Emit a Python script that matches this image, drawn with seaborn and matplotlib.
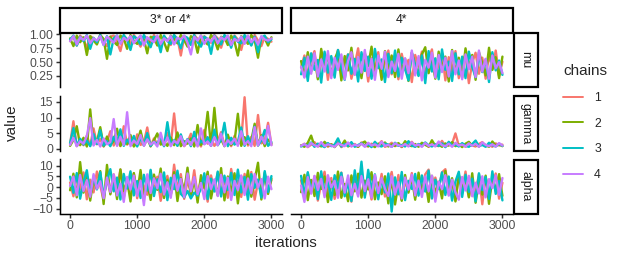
import numpy as np
import pandas as pd
import matplotlib
matplotlib.use("Agg")
import matplotlib.pyplot as plt
import seaborn as sns
from matplotlib.patches import Rectangle

# ---------------- data ----------------
groups = ["3* or 4*", "4*"]
params = ["mu", "gamma", "alpha"]
chains = ["1", "2", "3", "4"]
chain_colors = ["#F8766D", "#7CAE00", "#00BFC4", "#C77CFF"]
x_ticks = [0, 1000, 2000, 3000]
x_ticklabels = ["0", "1000", "2000", "3000"]
mu_ticks = [0.25, 0.50, 0.75, 1.00]
mu_ticklabels = ["0.25", "0.50", "0.75", "1.00"]
gamma_ticks = [0, 5, 10, 15]
gamma_ticklabels = ["0", "5", "10", "15"]
alpha_ticks = [-10, -5, 0, 5, 10]
alpha_ticklabels = ["\u221210", "\u22125", "0", "5", "10"]

# mu, group "3* or 4*" (chains 1-4), sampled every 50 iterations
mu_a = [
    [0.88,0.97,0.80,0.98,0.91,0.76,0.97,0.93,0.84,0.99,0.89,0.79,0.96,0.98,0.86,0.70,0.97,0.92,0.82,0.99,0.90,0.78,0.97,0.94,0.85,0.99,0.88,0.77,0.96,0.91,0.81,0.98,0.93,0.62,0.96,0.89,0.83,0.99,0.92,0.80,0.97,0.90,0.85,0.99,0.93,0.76,0.96,0.88,0.84,0.98,0.91,0.72,0.97,0.94,0.81,0.99,0.89,0.79,0.96,0.92,0.87],
    [0.93,0.79,0.98,0.86,0.95,0.63,0.97,0.89,0.82,0.99,0.92,0.56,0.96,0.87,0.81,0.98,0.93,0.74,0.99,0.88,0.83,0.97,0.91,0.66,0.96,0.94,0.80,0.99,0.86,0.70,0.98,0.92,0.84,0.99,0.90,0.78,0.97,0.93,0.67,0.98,0.88,0.82,0.99,0.91,0.73,0.96,0.94,0.81,0.98,0.87,0.62,0.97,0.92,0.83,0.99,0.90,0.58,0.96,0.93,0.80,0.95],
    [0.91,0.98,0.80,0.96,0.88,0.99,0.74,0.94,0.86,0.99,0.81,0.97,0.64,0.93,0.98,0.84,0.99,0.90,0.72,0.97,0.92,0.82,0.99,0.87,0.77,0.96,0.93,0.68,0.98,0.88,0.83,0.99,0.91,0.75,0.97,0.94,0.81,0.99,0.86,0.78,0.96,0.92,0.65,0.98,0.90,0.82,0.99,0.93,0.76,0.97,0.87,0.84,0.99,0.91,0.80,0.96,0.68,0.94,0.98,0.86,0.91],
    [0.88,0.97,0.82,0.95,0.90,0.98,0.84,0.93,0.89,0.97,0.81,0.96,0.91,0.85,0.98,0.83,0.94,0.89,0.97,0.84,0.92,0.98,0.80,0.95,0.90,0.86,0.98,0.83,0.93,0.88,0.97,0.82,0.94,0.91,0.98,0.85,0.64,0.96,0.89,0.98,0.83,0.93,0.87,0.97,0.84,0.95,0.90,0.98,0.81,0.92,0.88,0.96,0.83,0.98,0.86,0.94,0.82,0.97,0.91,0.89,0.93],
]
# mu, group "4*"
mu_b = [
    [0.40,0.62,0.25,0.55,0.70,0.22,0.48,0.66,0.18,0.58,0.35,0.72,0.27,0.52,0.64,0.20,0.45,0.75,0.30,0.60,0.15,0.57,0.38,0.68,0.24,0.50,0.71,0.28,0.61,0.19,0.65,0.36,0.54,0.14,0.63,0.42,0.69,0.26,0.56,0.73,0.23,0.47,0.66,0.17,0.59,0.33,0.70,0.21,0.53,0.62,0.12,0.49,0.67,0.29,0.58,0.20,0.64,0.37,0.71,0.25,0.51],
    [0.52,0.24,0.68,0.33,0.60,0.19,0.74,0.40,0.63,0.26,0.55,0.70,0.17,0.61,0.35,0.76,0.28,0.57,0.21,0.66,0.43,0.78,0.31,0.59,0.18,0.70,0.38,0.62,0.23,0.73,0.34,0.56,0.16,0.67,0.45,0.27,0.64,0.77,0.30,0.54,0.20,0.69,0.39,0.60,0.15,0.72,0.32,0.58,0.22,0.75,0.41,0.63,0.18,0.68,0.48,0.26,0.76,0.36,0.59,0.21,0.60],
    [0.28,0.58,0.16,0.66,0.36,0.54,0.13,0.69,0.31,0.61,0.22,0.72,0.42,0.18,0.64,0.29,0.56,0.15,0.68,0.34,0.60,0.20,0.74,0.39,0.55,0.14,0.65,0.30,0.71,0.24,0.58,0.37,0.17,0.67,0.44,0.25,0.62,0.12,0.70,0.33,0.57,0.19,0.73,0.36,0.51,0.16,0.66,0.28,0.60,0.21,0.69,0.41,0.23,0.63,0.32,0.55,0.14,0.68,0.35,0.53,0.27],
    [0.42,0.22,0.60,0.29,0.66,0.24,0.55,0.33,0.70,0.21,0.58,0.36,0.64,0.19,0.52,0.68,0.27,0.59,0.31,0.72,0.25,0.56,0.18,0.62,0.38,0.69,0.23,0.51,0.34,0.65,0.20,0.57,0.30,0.71,0.26,0.61,0.17,0.54,0.40,0.67,0.22,0.63,0.32,0.58,0.24,0.70,0.28,0.53,0.19,0.64,0.37,0.60,0.23,0.71,0.33,0.56,0.20,0.62,0.39,0.50,0.30],
]
# gamma, group "3* or 4*"
gamma_a = [
    [1.5,8.8,0.8,2.6,1.1,4.2,0.9,6.5,1.4,3.1,0.7,2.2,5.6,1.0,3.4,0.8,7.2,1.3,2.7,0.9,4.6,1.2,2.0,6.8,0.7,3.3,1.5,2.4,0.9,5.1,1.3,11.3,1.0,3.0,0.8,2.1,4.8,1.1,2.9,0.7,6.0,1.6,3.6,0.9,2.3,5.3,1.2,2.8,0.8,4.1,1.4,2.5,16.5,1.0,3.8,0.9,10.8,1.7,2.6,8.3,1.2],
    [0.9,2.8,7.2,1.1,3.5,0.7,12.6,1.4,2.2,6.9,0.8,3.9,1.2,2.5,6.4,0.9,3.1,1.5,4.4,0.7,2.0,5.8,1.0,3.2,0.8,2.7,4.9,1.3,2.1,0.9,3.6,1.1,5.2,0.8,2.4,1.6,3.3,0.7,7.6,1.2,2.9,11.8,0.9,13.1,1.4,3.0,0.8,4.5,1.2,2.3,11.2,0.9,3.7,1.5,2.6,8.0,1.1,4.3,0.8,2.9,1.6],
    [1.8,6.6,0.9,3.2,1.3,2.6,0.8,4.7,1.5,5.9,1.0,2.4,0.8,3.8,1.2,6.2,0.9,2.9,1.4,4.1,0.7,3.4,1.1,5.0,0.9,2.2,1.6,3.9,0.8,8.5,1.3,2.7,0.9,4.6,1.2,3.1,0.8,5.4,1.0,2.5,1.5,3.7,0.9,6.1,1.1,2.8,8.3,0.8,3.5,1.3,2.2,6.8,0.9,4.0,1.4,7.1,1.0,2.6,6.0,0.9,2.1],
    [1.2,3.5,0.8,2.4,1.6,4.1,9.8,1.0,2.8,0.7,3.3,1.4,2.1,9.5,0.9,3.8,1.2,11.7,0.8,2.6,1.5,4.4,0.9,3.0,1.3,2.2,0.7,5.1,1.1,3.6,0.8,2.5,1.7,4.0,0.9,2.9,1.2,3.4,0.7,6.5,1.4,2.3,0.9,3.7,1.1,4.8,0.8,2.7,1.5,3.2,0.9,5.6,1.3,2.4,0.8,6.9,1.0,3.9,1.6,7.3,1.1],
]
# gamma, group "4*"
gamma_b = [
    [0.8,1.6,0.5,1.3,2.1,0.7,1.1,1.8,0.6,1.4,0.9,2.3,0.5,1.2,1.7,0.8,1.5,0.6,2.0,1.0,0.7,1.6,0.9,1.3,2.4,0.6,1.1,1.9,0.8,1.4,0.5,1.7,1.0,2.2,0.7,1.3,0.9,1.8,0.6,1.5,1.1,0.8,2.5,0.7,1.2,1.6,4.9,0.9,1.4,0.6,1.9,1.0,0.7,1.5,2.1,0.8,1.2,0.6,1.7,1.0,1.3],
    [1.1,0.6,1.9,4.2,0.8,1.5,0.7,2.2,1.0,1.4,0.5,1.8,0.9,2.6,0.7,1.3,1.1,0.6,1.7,2.3,0.8,1.2,0.5,1.6,1.0,2.0,0.7,1.4,0.9,1.8,0.6,2.4,1.1,0.8,1.5,0.6,1.9,1.2,0.7,2.7,0.9,1.3,0.6,1.7,1.0,2.1,0.8,1.4,0.5,1.6,2.2,0.9,1.3,0.7,1.8,1.1,0.6,2.3,1.0,1.4,0.8],
    [0.7,1.4,0.9,2.0,0.6,1.6,1.1,0.5,1.8,0.8,1.3,3.3,0.7,1.5,0.9,2.1,0.6,1.2,1.7,0.8,1.4,0.5,2.2,1.0,0.7,1.6,1.3,0.6,1.9,0.9,1.2,0.7,2.4,1.0,0.6,1.5,0.8,2.0,1.1,0.7,1.4,0.9,1.7,0.5,2.2,1.0,1.3,0.7,1.8,0.9,0.6,1.5,2.6,0.8,1.2,0.6,1.9,1.1,0.7,1.6,0.9],
    [0.9,1.5,0.6,1.8,1.1,0.7,2.1,0.8,1.4,1.0,0.6,1.7,1.2,0.8,2.0,0.7,1.3,0.9,1.6,0.6,1.9,1.0,1.4,0.7,2.2,0.9,1.2,0.6,1.7,1.1,0.8,1.5,0.7,2.0,1.0,1.3,0.6,1.8,0.9,1.4,0.7,2.3,1.1,0.8,1.6,0.6,1.9,1.0,1.3,0.7,1.7,0.9,1.5,0.6,2.0,1.2,0.8,1.4,0.7,1.8,1.0],
]
# alpha, group "3* or 4*"
alpha_a = [
    [2.1,-4.3,5.6,-1.2,6.8,-5.7,3.4,-2.5,7.2,0.6,-6.1,4.5,-3.0,5.9,-0.8,8.1,-4.9,2.7,-1.6,6.3,-5.2,3.9,0.4,-3.6,7.5,-2.0,4.8,-6.4,1.3,5.2,-3.8,10.4,-1.1,6.0,-5.5,2.9,-2.4,7.8,-4.1,3.6,0.9,-6.8,5.4,-1.7,6.7,-3.3,4.1,-5.0,8.4,-0.5,3.0,-4.6,6.1,-2.2,7.0,-5.9,2.4,-3.1,5.7,-1.4,3.2],
    [-1.5,6.2,-4.8,11.6,-2.6,5.1,-6.3,3.7,-0.9,7.4,-7.9,10.3,-3.4,4.6,-5.6,8.2,-1.8,3.1,-6.7,6.5,-2.9,7.9,-4.4,2.0,-6.0,5.8,-1.3,8.6,-5.1,3.4,-3.7,6.9,-6.5,4.2,-2.1,9.0,-4.7,3.8,-7.2,5.5,-0.6,7.1,-5.3,2.6,-3.9,8.8,-6.2,4.9,-2.7,6.4,-7.6,5.0,-1.9,7.7,-4.5,3.3,11.3,-5.8,6.6,-3.2,4.0],
    [4.8,-2.7,6.5,-5.4,2.3,7.8,-3.5,5.0,-1.1,6.9,-4.6,3.1,8.3,-2.0,4.4,-5.8,6.1,-0.7,7.3,-3.9,2.8,-5.1,5.7,-1.6,8.0,-4.2,3.6,-2.4,6.8,-6.1,4.3,-1.0,7.6,-3.2,-4.8,-1.8,-5.3,-2.6,-4.0,-0.9,6.4,-5.6,3.9,-2.1,7.2,-4.4,5.3,-1.4,6.6,-3.7,8.1,-2.5,4.7,-5.9,6.0,-0.4,3.5,-4.9,7.4,-2.3,5.1],
    [0.5,4.9,-3.8,5.6,-1.9,3.2,-4.5,6.0,-0.8,2.7,-5.2,4.4,-2.3,5.8,-3.9,1.6,-6.9,4.7,-1.2,5.3,-4.1,3.0,-8.4,5.9,-2.8,4.1,-0.6,6.2,-3.5,2.2,-5.0,5.5,-1.7,3.8,-4.6,6.3,-2.0,4.6,-3.3,1.9,-5.6,5.1,-0.9,3.6,-4.2,5.7,-2.5,4.3,-6.0,2.9,-1.4,5.4,-3.7,4.0,-2.9,6.1,-0.3,3.7,-5.3,4.8,-1.0],
]
# alpha, group "4*"
alpha_b = [
    [3.1,-4.8,6.4,-2.2,5.0,-6.3,1.8,7.1,-3.6,4.2,-5.5,0.9,6.7,-1.9,3.5,-6.8,5.3,-0.7,7.4,-4.0,2.6,-5.8,4.7,-2.9,6.1,-4.4,1.5,7.0,-3.1,5.6,-6.0,2.3,-1.3,6.5,-4.7,3.8,-2.4,5.9,8.1,-5.2,4.4,-0.8,6.8,8.3,-3.4,2.7,-6.2,5.1,-1.6,7.2,-4.5,3.3,-2.7,6.0,-8.0,4.6,-3.8,1.2,6.3,-5.4,2.0],
    [-2.4,5.7,-6.1,3.3,-4.2,6.6,-0.9,4.9,-7.0,2.5,-3.7,7.2,-5.0,1.4,-6.6,5.4,-2.0,6.2,-4.9,3.0,-1.1,6.9,-5.7,2.1,-3.3,5.0,-7.6,3.9,-8.1,1.7,-6.4,5.6,-2.6,4.3,-5.9,6.7,-1.5,3.6,-6.9,5.2,-3.0,2.4,-5.3,7.5,-2.2,4.1,-6.7,5.8,-0.6,3.2,-4.8,6.4,-7.3,2.8,-3.5,5.3,-7.8,4.5,-1.8,6.0,-4.1],
    [5.2,-3.9,6.9,-1.7,4.0,-5.6,7.3,-2.8,3.1,-6.0,5.5,-0.5,6.6,-4.3,2.2,-6.5,7.8,-3.0,11.8,-4.9,8.0,-1.2,5.9,-5.7,3.7,-2.5,6.3,-11.4,4.5,-3.4,7.0,-6.1,2.9,-0.9,6.1,-4.0,5.4,-2.1,7.6,-5.3,3.4,-1.0,6.8,-3.7,4.9,-6.3,2.6,7.1,-4.6,5.7,-2.3,3.9,-6.7,6.4,-1.4,4.7,-5.5,7.3,-3.2,2.8,-6.2],
    [0.7,-6.9,4.6,-3.1,5.2,-1.4,3.8,-4.7,5.5,-0.2,2.9,-5.0,4.8,-2.6,5.4,-3.8,1.5,-4.4,5.1,-1.9,3.6,-4.9,5.6,-2.8,4.1,-0.8,-4.2,5.0,-3.5,2.3,-5.3,4.4,-1.2,5.7,-3.9,3.0,-4.6,4.9,-2.0,5.3,-6.8,2.5,-1.0,5.5,-4.0,3.4,-2.4,-5.9,4.7,-1.6,5.2,-4.3,2.0,-3.0,5.0,-4.8,3.7,-0.5,5.4,-3.6,4.2],
]

series = {
    ("3* or 4*", "mu"): mu_a, ("4*", "mu"): mu_b,
    ("3* or 4*", "gamma"): gamma_a, ("4*", "gamma"): gamma_b,
    ("3* or 4*", "alpha"): alpha_a, ("4*", "alpha"): alpha_b,
}

records = []
for (g, p), chain_lists in series.items():
    for c, vals in zip(chains, chain_lists):
        its = np.linspace(0, 3000, len(vals))
        for it, v in zip(its, vals):
            records.append((g, p, c, it, v))
df = pd.DataFrame(records, columns=["group", "param", "chain", "iteration", "value"])

# ---------------- styling ----------------
sns.set_theme(style="white")
plt.rcParams["font.family"] = ["Liberation Sans", "DejaVu Sans"]

W, H = 623, 260
fig = plt.figure(figsize=(W / 100, H / 100), dpi=100)
fig.patch.set_facecolor("white")


def rect(x0, y0, x1, y1):
    return [x0 / W, 1 - y1 / H, (x1 - x0) / W, (y1 - y0) / H]


col_px = [(60, 281.5), (291, 512.5)]
row_px = [(32.5, 87.3), (96.3, 150.8), (159.5, 213.5)]
strip_top = 8.0
strip_right = (513.5, 537.5)

ylims = {"mu": (0.045, 1.036), "gamma": (-0.68, 16.8), "alpha": (-12.3, 12.8)}
yticks = {"mu": (mu_ticks, mu_ticklabels), "gamma": (gamma_ticks, gamma_ticklabels),
          "alpha": (alpha_ticks, alpha_ticklabels)}

TICK_COL = "#4D4D4D"
handles, labels = None, None
for i, p in enumerate(params):
    for j, g in enumerate(groups):
        x0, x1 = col_px[j]
        y0, y1 = row_px[i]
        ax = fig.add_axes(rect(x0, y0, x1, y1))
        sub = df[(df.group == g) & (df.param == p)]
        first = (i == 0 and j == 0)
        sns.lineplot(data=sub, x="iteration", y="value", hue="chain", hue_order=chains,
                     palette=chain_colors, estimator=None, sort=False, linewidth=1.7,
                     legend=first, ax=ax)
        if first:
            handles, labels = ax.get_legend_handles_labels()
            ax.get_legend().remove()
        ax.set_xlim(-150, 3150)
        ax.set_ylim(*ylims[p])
        ax.set_xlabel("")
        ax.set_ylabel("")
        ax.set_facecolor("white")
        for s in ax.spines.values():
            s.set_visible(False)
        ax.tick_params(axis="both", length=2.75, width=1.07, color="#333333",
                       labelcolor=TICK_COL, labelsize=8.8, pad=2.2)
        if j == 0:
            ax.spines["left"].set_visible(True)
            ax.spines["left"].set_color("black")
            ax.spines["left"].set_linewidth(1.07)
            tk, tl = yticks[p]
            ax.set_yticks(tk)
            ax.set_yticklabels(tl)
            ax.tick_params(axis="y", left=True)
        else:
            ax.set_yticks([])
        if i == 2:
            ax.spines["bottom"].set_visible(True)
            ax.spines["bottom"].set_color("black")
            ax.spines["bottom"].set_linewidth(1.07)
            ax.set_xticks(x_ticks)
            ax.set_xticklabels(x_ticklabels)
            ax.tick_params(axis="x", bottom=True)
        else:
            ax.set_xticks([])
        ax.grid(False)

# top strips
for j, g in enumerate(groups):
    x0, x1 = col_px[j]
    sax = fig.add_axes(rect(x0, strip_top, x1, row_px[0][0]))
    sax.set_axis_off()
    sax.add_patch(Rectangle((0, 0), 1, 1, transform=sax.transAxes, facecolor="white",
                            edgecolor="black", linewidth=1.6, clip_on=False))
    sax.text(0.5, 0.5, g, transform=sax.transAxes, ha="center", va="center",
             fontsize=8.8, color="#1A1A1A")

# right strips
for i, p in enumerate(params):
    y0, y1 = row_px[i]
    sax = fig.add_axes(rect(strip_right[0], y0, strip_right[1], y1))
    sax.set_axis_off()
    sax.add_patch(Rectangle((0, 0), 1, 1, transform=sax.transAxes, facecolor="white",
                            edgecolor="black", linewidth=1.6, clip_on=False))
    sax.text(0.5, 0.5, p, transform=sax.transAxes, ha="center", va="center",
             rotation=-90, fontsize=8.8, color="#1A1A1A")

# axis titles
fig.text(12 / W, 1 - 123 / H, "value", rotation=90, ha="center", va="center", fontsize=11)
fig.text(286 / W, 1 - 243 / H, "iterations", ha="center", va="center", fontsize=11)

# legend
for h in handles:
    h.set_linewidth(1.4)
leg = fig.legend(handles, labels, title="chains", loc="upper left",
                 bbox_to_anchor=(563 / W, 1 - 64 / H), frameon=False,
                 fontsize=8.8, title_fontsize=11, handlelength=1.65,
                 handletextpad=0.9, labelspacing=1.13, alignment="left",
                 borderaxespad=0, borderpad=0)

fig.savefig("out.png", dpi=100, facecolor="white")
